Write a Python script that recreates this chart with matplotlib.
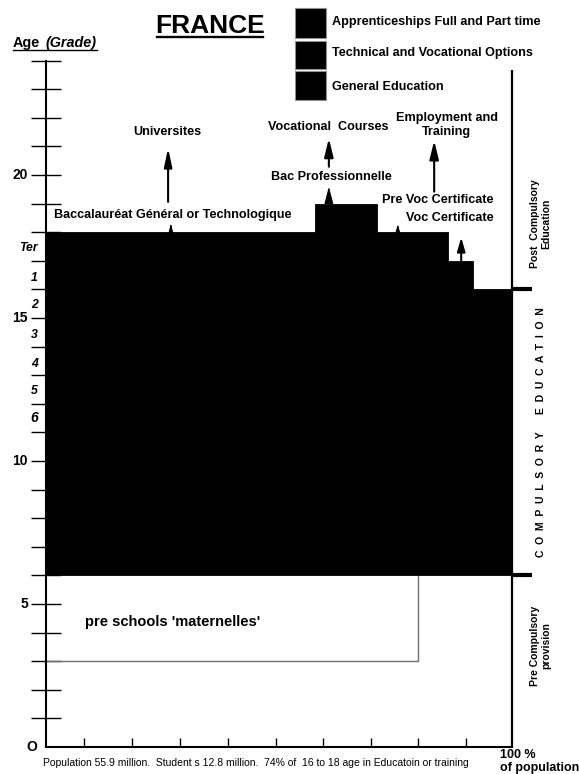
import matplotlib
matplotlib.use('Agg')
import matplotlib.pyplot as plt
from matplotlib.patches import Rectangle
from matplotlib.lines import Line2D

plt.rcParams['font.family'] = ['Liberation Sans', 'DejaVu Sans']

W, H, DPI = 579, 774, 100

# ---------------- data ----------------
segment_edges = [0, 57.7, 71.0, 86.3, 91.6, 100]    # % of population
segment_tops = [18, 19, 18, 17, 16]                  # age at which leaving
compulsory_start = 6
compulsory_end = 16
preschool_start = 3
preschool_share = 79.8
age_ticks = list(range(1, 25))
age_label_values = [20, 15, 10, 5, 0]
age_label_texts = ['20', '15', '10', '5', 'O']
grade_labels = ['Ter', '1', '2', '3', '4', '5', '6']
grade_positions = [17.45, 16.4, 15.45, 14.4, 13.4, 12.45, 11.5]
x_ticks = [8.2, 18.5, 28.8, 39.1, 49.4, 59.4, 69.7, 79.8, 90.1]
legend_labels = ['Apprenticeships Full and Part time',
                 'Technical and Vocational Options',
                 'General Education']

# ---------------- figure ----------------
fig = plt.figure(figsize=(W / DPI, H / DPI), dpi=DPI)
ax = fig.add_axes([46 / W, 27 / H, 466 / W, 686.4 / H])
ax.set_xlim(0, 100)
ax.set_ylim(0, 24)
ax.patch.set_alpha(0)
for s in ['top', 'right']:
    ax.spines[s].set_visible(False)
for s in ['left', 'bottom']:
    ax.spines[s].set_linewidth(1.5)

ax.set_yticks(age_ticks)
ax.set_yticklabels([])
ax.tick_params(axis='y', direction='inout', length=21, width=1.0, color='black')
ax.set_xticks(x_ticks)
ax.set_xticklabels([])
ax.tick_params(axis='x', direction='in', length=6.5, width=1.0)

# compulsory + post-compulsory block (one stepped polygon)
tops_step = segment_tops + [segment_tops[-1]]
ax.fill_between(segment_edges, compulsory_start, tops_step, step='post',
                facecolor='black', edgecolor='black', linewidth=0.6, zorder=3)

# pre-school outline
ax.plot([0, preschool_share, preschool_share],
        [preschool_start, preschool_start, compulsory_start],
        color='#707070', lw=1.0, zorder=2)

# right vertical line and brackets
ax.vlines(100, 0, 23.67, color='black', lw=1.6, clip_on=False, zorder=4)
for yb in [compulsory_start, compulsory_end]:
    ax.plot([100, 104.3], [yb, yb], color='black', lw=3.0, clip_on=False,
            solid_capstyle='butt', zorder=4)

# age labels
for v, t in zip(age_label_values, age_label_texts):
    xx = -1.9 if t == 'O' else -3.9
    ax.text(xx, v, t, ha='right', va='center', fontsize=10, fontweight='bold',
            clip_on=False)
for v, t in zip(grade_positions, grade_labels):
    ax.text(-1.7, v, t, ha='right', va='center', fontsize=10 if t == '6' else 8.8,
            fontweight='bold', style='italic', clip_on=False)

# arrows: (x, base, tip, head_len_px, head_width_px, lw)
arrows = [
    (26.2, 19.06, 20.94, 17, 8, 1.5),
    (26.8, 18.0, 18.32, 9, 5, 0.8),
    (60.7, 20.29, 21.28, 17, 9, 1.5),
    (60.7, 19.0, 19.59, 16, 9, 0.8),
    (83.3, 19.42, 21.2, 17, 9, 1.5),
    (75.5, 18.0, 18.28, 8, 5, 0.8),
    (89.1, 17.0, 17.82, 13, 8, 1.5),
]
ms = 10.0  # points
ms_px = ms * DPI / 72
for x, b, t, hl, hw, lw in arrows:
    ax.annotate('', xy=(x, t), xytext=(x, b),
                arrowprops=dict(arrowstyle=f'-|>,head_length={(hl - 1.5) / ms_px:.3f},'
                                           f'head_width={(hw / 2 - 0.7) / ms_px:.3f}',
                                color='black', lw=lw, shrinkA=0, shrinkB=0,
                                mutation_scale=ms),
                zorder=5)

ann_fs = 9.1
ax.text(25.97, 21.52, 'Universites', ha='center', va='center', fontsize=ann_fs, fontweight='bold')
ax.text(27.1, 18.6, 'Baccalauréat Général or Technologique', ha='center', va='center',
        fontsize=ann_fs, fontweight='bold')
ax.text(60.6, 21.67, 'Vocational  Courses', ha='center', va='center', fontsize=ann_fs, fontweight='bold')
ax.text(61.3, 19.94, 'Bac Professionnelle', ha='center', va='center', fontsize=ann_fs, fontweight='bold')
ax.text(86.0, 21.75, 'Employment and\nTraining', ha='center', va='center', fontsize=ann_fs,
        fontweight='bold', linespacing=1.2)
ax.text(96.1, 19.13, 'Pre Voc Certificate', ha='right', va='center', fontsize=ann_fs, fontweight='bold')
ax.text(96.1, 18.49, 'Voc Certificate', ha='right', va='center', fontsize=ann_fs, fontweight='bold')
ax.text(8.4, 4.37, "pre schools 'maternelles'", ha='left', va='center', fontsize=10.5, fontweight='bold')

# right side vertical labels
ax.text(106.2, 18.3, 'Post  Compulsory\nEducation', rotation=90, ha='center', va='center',
        fontsize=7.5, fontweight='bold', multialignment='center', linespacing=1.1, clip_on=False)
ax.text(106.2, 11.0, 'C  O  M  P  U  L  S  O  R  Y      E  D  U  C  A  T  I  O  N', rotation=90,
        ha='center', va='center', fontsize=7.5, fontweight='bold', clip_on=False)
ax.text(106.2, 3.53, 'Pre Compulsory\nprovision', rotation=90, ha='center', va='center',
        fontsize=7.5, fontweight='bold', multialignment='center', linespacing=1.1, clip_on=False)

# bottom texts
ax.text(45.1, -0.56, 'Population 55.9 million.  Student s 12.8 million.  74% of  16 to 18 age in Educatoin or training',
        ha='center', va='center', fontsize=7.5, clip_on=False)
ax.text(97.4, -0.28, '100 %', ha='left', va='center', fontsize=9, fontweight='bold', clip_on=False)
ax.text(97.4, -0.73, 'of population', ha='left', va='center', fontsize=9, fontweight='bold', clip_on=False)

# title
fig.text(210 / W, 1 - 26 / H, 'FRANCE', ha='center', va='center', fontsize=19, fontweight='bold')
fig.add_artist(Line2D([157 / W, 263 / W], [1 - 37 / H] * 2, color='black', lw=1.7))

# Age (Grade)
fig.text(12.7 / W, 1 - 46.7 / H, 'Age', ha='left', va='baseline', fontsize=10.4, fontweight='bold')
fig.text(45 / W, 1 - 46.7 / H, '(Grade)', ha='left', va='baseline', fontsize=10.4,
         fontweight='bold', style='italic')
fig.add_artist(Line2D([12.7 / W, 97 / W], [1 - 50 / H] * 2, color='black', lw=1.0))

# legend
box_tops = [8.3, 40.7, 71]
box_bottoms = [38.3, 69.3, 100]
text_y = [22.3, 53.3, 86.7]
for lab, t, b, ty in zip(legend_labels, box_tops, box_bottoms, text_y):
    fig.add_artist(Rectangle((295 / W, 1 - b / H), 31 / W, (b - t) / H, transform=fig.transFigure,
                             facecolor='black', edgecolor='#909090', lw=0.8))
    fig.text(332 / W, 1 - ty / H, lab, ha='left', va='center', fontsize=9.1, fontweight='bold')

fig.savefig('out.png', dpi=DPI)
